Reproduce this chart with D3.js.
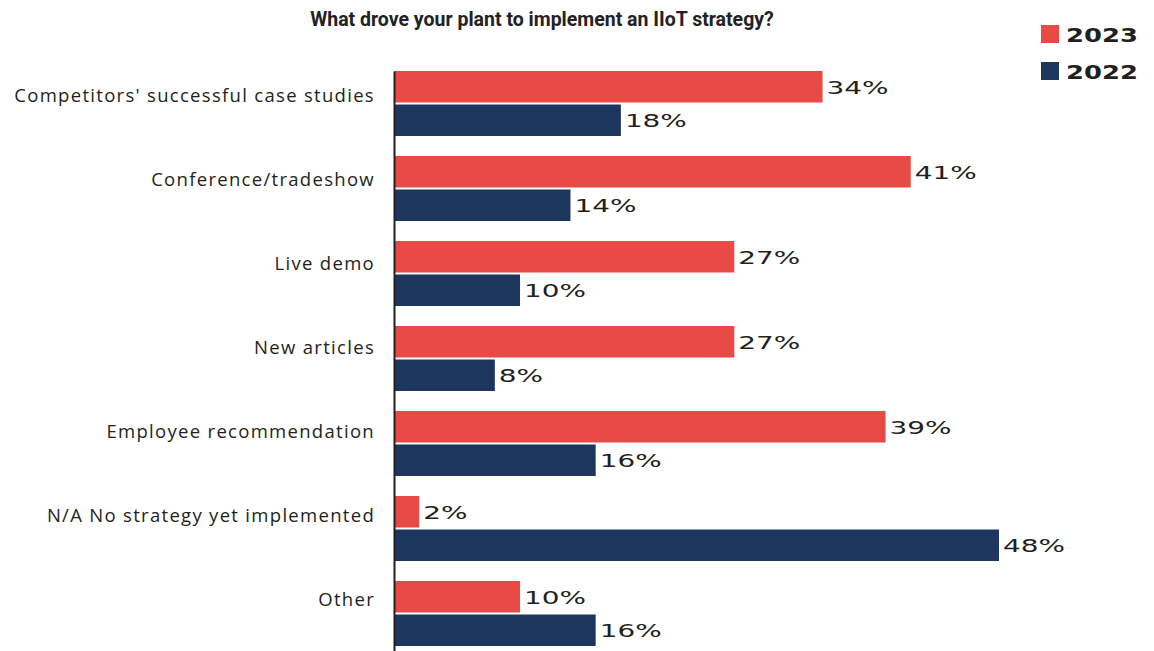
<!DOCTYPE html>
<html>
<head>
<meta charset="utf-8">
<script src="https://cdn.jsdelivr.net/npm/d3@7"></script>
<style>
  html, body { margin: 0; padding: 0; background: #fff; }
  svg { display: block; }
</style>
</head>
<body>
<svg id="chart" width="1154" height="651"></svg>
<script>
// Survey responses: drivers for implementing an IIoT strategy
const categories = [
  "Competitors' successful case studies",
  "Conference/tradeshow",
  "Live demo",
  "New articles",
  "Employee recommendation",
  "N/A No strategy yet implemented",
  "Other"
];
const years = ["2023", "2022"];
const values2023 = [34, 41, 27, 27, 39, 2, 10];
const values2022 = [18, 14, 10, 8, 16, 48, 16];
const titleText = "What drove your plant to implement an IIoT strategy?";

const colors = { "2023": "#E84A45", "2022": "#1C365E" };

const svg = d3.select("#chart");
const left = 394;

const rows = categories.map((c, i) => ({ cat: c, "2023": values2023[i], "2022": values2022[i] }));

const x = d3.scaleLinear().domain([0, 48]).range([left, 999]);
const y0 = d3.scaleBand().domain(categories).range([71, 666]);
const y1 = d3.scaleBand().domain(years).range([0, 65]).paddingInner(0.06);
// Category labels sit on a slightly tighter pitch than the bar groups
const yLabel = d3.scaleBand().domain(categories).range([80, 668]);

// Title
svg.append("text")
  .attr("x", 542).attr("y", 26)
  .attr("text-anchor", "middle")
  .attr("font-family", "Roboto, 'Liberation Sans', sans-serif")
  .attr("font-weight", 700)
  .attr("font-size", 19.5)
  .attr("fill", "#222")
  .text(titleText);

// Groups
const groups = svg.append("g").selectAll("g")
  .data(rows).join("g")
  .attr("transform", d => `translate(0,${y0(d.cat)})`);

groups.selectAll("rect")
  .data(d => years.map(yr => ({ yr, v: d[yr] })))
  .join("rect")
  .attr("x", x(0))
  .attr("y", d => y1(d.yr))
  .attr("width", d => x(d.v) - x(0))
  .attr("height", y1.bandwidth())
  .attr("fill", d => colors[d.yr]);

// Value labels
groups.selectAll("text.val")
  .data(d => years.map(yr => ({ yr, v: d[yr] })))
  .join("text")
  .attr("class", "val")
  .attr("font-family", "'DejaVu Sans', sans-serif")
  .attr("font-size", 18)
  .attr("fill", "#231f20")
  .attr("dominant-baseline", "central")
  .attr("transform", d => `translate(${x(d.v) + 4},${y1(d.yr) + y1.bandwidth() / 2 + 1}) scale(1.55,1)`)
  .text(d => d.v + "%");

// Category labels
svg.append("g").selectAll("text")
  .data(categories).join("text")
  .attr("x", left - 19)
  .attr("y", d => yLabel(d) + 14)
  .attr("text-anchor", "end")
  .attr("dominant-baseline", "central")
  .attr("font-family", "'Open Sans', sans-serif")
  .attr("font-size", 18.5)
  .attr("letter-spacing", 1.3)
  .attr("fill", "#231f20")
  .text(d => d);

// Vertical baseline axis
const yAxis = d3.axisLeft(d3.scaleLinear().range([71, 651])).ticks(0).tickSize(0).tickFormat("");
svg.append("g")
  .attr("transform", `translate(${left},0)`)
  .call(yAxis)
  .call(g => g.select(".domain").attr("stroke", "#231f20").attr("stroke-width", 2));

// Legend
const legend = svg.append("g").selectAll("g")
  .data(years).join("g")
  .attr("transform", (d, i) => `translate(1041,${25 + i * 37})`);
legend.append("rect")
  .attr("width", 18).attr("height", 18)
  .attr("fill", d => colors[d]);
legend.append("text")
  .attr("dominant-baseline", "central")
  .attr("font-family", "'DejaVu Sans', sans-serif")
  .attr("font-size", 19)
  .attr("font-weight", 700)
  .attr("fill", "#231f20")
  .attr("transform", "translate(25,10) scale(1.36,1)")
  .text(d => d);
</script>
</body>
</html>
